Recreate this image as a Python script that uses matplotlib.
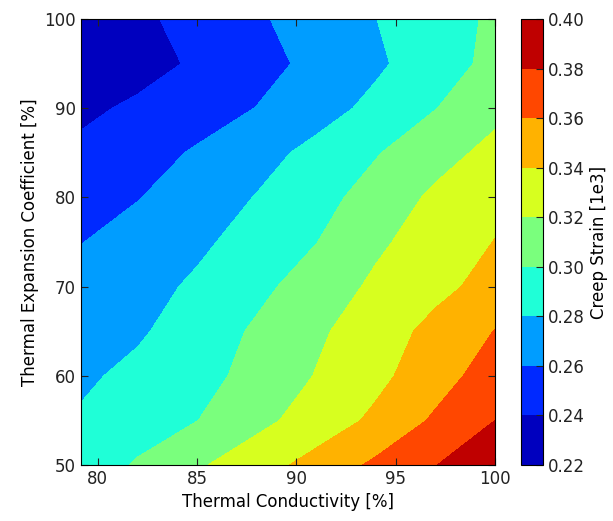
import numpy as np
import matplotlib
matplotlib.use('Agg')
import matplotlib.pyplot as plt

# thermal conductivity [%] (x) and thermal expansion coefficient [%] (y)
cond = [79.15, 82, 85, 88, 91, 94, 97, 100]
expan = [50, 55, 60, 65, 70, 75, 80, 85, 90, 95, 100]

# creep strain, one row per expansion value
strain = [
    [0.2874, 0.3020, 0.3174, 0.3316, 0.3469, 0.3637, 0.3795, 0.3950],  # 50
    [0.2820, 0.2906, 0.2997, 0.3145, 0.3288, 0.3439, 0.3629, 0.3800],  # 55
    [0.2770, 0.2844, 0.2940, 0.3056, 0.3209, 0.3349, 0.3515, 0.3697],  # 60
    [0.2715, 0.2776, 0.2888, 0.3028, 0.3167, 0.3307, 0.3454, 0.3605],  # 65
    [0.2654, 0.2735, 0.2829, 0.2951, 0.3092, 0.3235, 0.3350, 0.3465],  # 70
    [0.2595, 0.2678, 0.2765, 0.2873, 0.2996, 0.3166, 0.3292, 0.3405],  # 75
    [0.2518, 0.2592, 0.2700, 0.2808, 0.2933, 0.3076, 0.3238, 0.3350],  # 80
    [0.2445, 0.2528, 0.2619, 0.2732, 0.2853, 0.2987, 0.3123, 0.3259],  # 85
    [0.2356, 0.2436, 0.2519, 0.2604, 0.2722, 0.2849, 0.2995, 0.3145],  # 90
    [0.2220, 0.2321, 0.2429, 0.2536, 0.2648, 0.2768, 0.2907, 0.3054],  # 95
    [0.2260, 0.2360, 0.2468, 0.2575, 0.2686, 0.2798, 0.2915, 0.3031],  # 100
]
levels = np.arange(0.22, 0.401, 0.02)

plt.rcParams['font.size'] = 12
plt.rcParams['xtick.direction'] = 'in'
plt.rcParams['ytick.direction'] = 'in'
plt.rcParams['xtick.top'] = True
plt.rcParams['ytick.right'] = True
plt.rcParams['xtick.major.size'] = 5
plt.rcParams['ytick.major.size'] = 5
plt.rcParams['text.color'] = '#222222'
plt.rcParams['xtick.color'] = '#222222'
plt.rcParams['ytick.color'] = '#222222'

fig = plt.figure(figsize=(6.13, 5.21), dpi=100)
ax = fig.add_axes([0.1321, 0.1075, 0.6754, 0.856])
cax = fig.add_axes([0.850, 0.1075, 0.0359, 0.856])

X, Y = np.meshgrid(cond, expan)
cs = ax.contourf(X, Y, np.array(strain), levels=levels, cmap='jet')
ax.set_xlim(79.15, 100)
ax.set_ylim(50, 100)
ax.set_xticks([80, 85, 90, 95, 100])
ax.set_yticks([50, 60, 70, 80, 90, 100])
ax.set_xlabel('Thermal Conductivity [%]')
ax.set_ylabel('Thermal Expansion Coefficient [%]')

cb = fig.colorbar(cs, cax=cax)
cb.set_ticks(levels)
cb.set_ticklabels(['%.2f' % v for v in levels])
cb.set_label('Creep Strain [1e3]')
cax.tick_params(direction='in', length=5, right=True, left=False)

fig.savefig('out.png', dpi=100)
